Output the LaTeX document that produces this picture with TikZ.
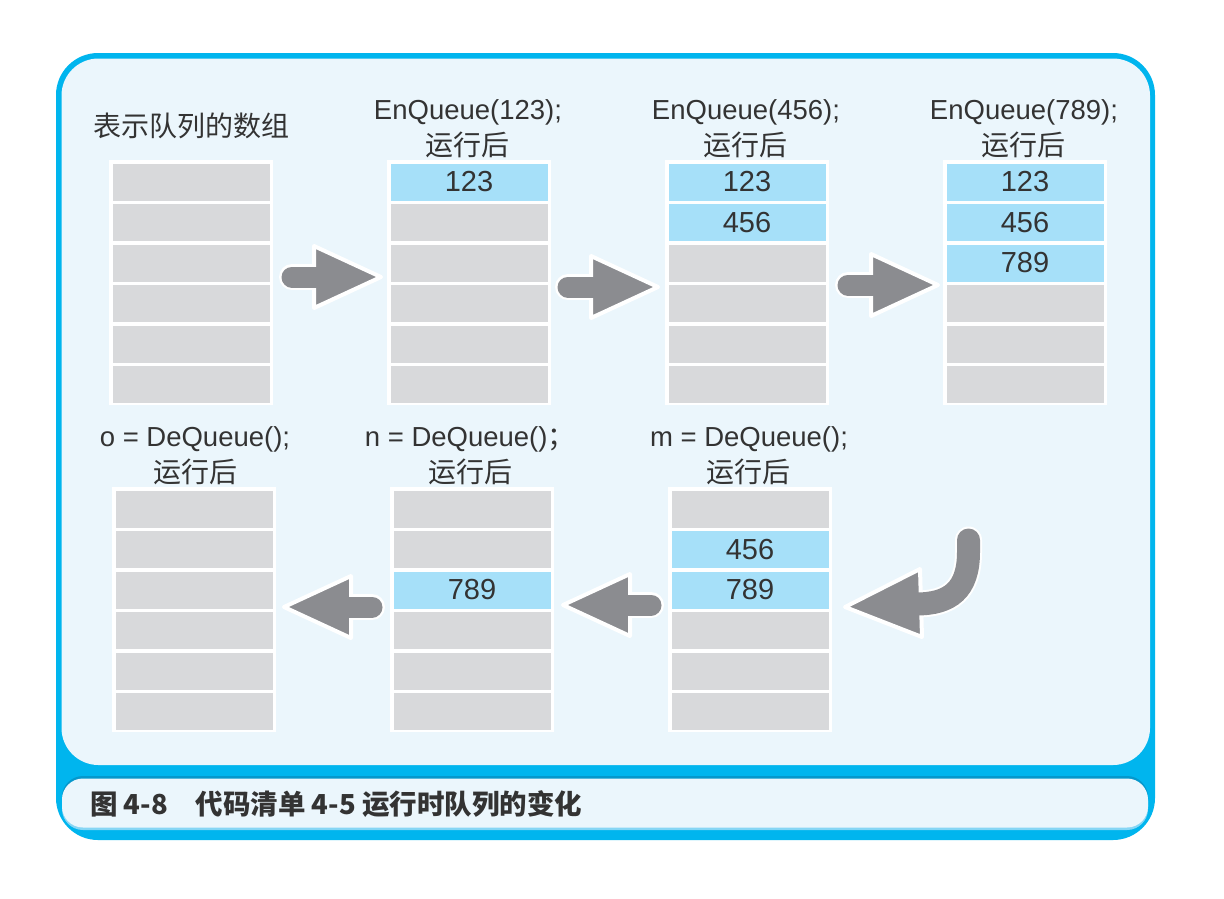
\documentclass[tikz,border=0pt]{standalone}
\usepackage{fontspec}
\setmainfont{Liberation Sans}
\newfontfamily\cjk{Noto Sans CJK SC}
\usetikzlibrary{calc}
\definecolor{frameblue}{HTML}{00B5EE}
\definecolor{panel}{HTML}{EBF6FC}
\definecolor{cellgray}{HTML}{D8D9DB}
\definecolor{cellblue}{HTML}{A6E0F9}
\definecolor{arrowgray}{HTML}{8B8C90}
\definecolor{txt}{HTML}{333333}
\definecolor{shadeblue}{HTML}{0598CC}
\definecolor{lightrim}{HTML}{86D6F5}
\tikzset{
  arraybg/.style={fill=white, draw=none, minimum width=164pt, minimum height=245pt, inner sep=0pt, outer sep=0pt},
  gcell/.style={fill=cellgray, minimum width=157pt, minimum height=37pt, inner sep=0pt, outer sep=0pt, text=txt, font=\fontsize{29}{31}\selectfont},
  bcell/.style={gcell, fill=cellblue},
  lab/.style={text=txt, inner sep=0pt, font=\fontsize{27.5}{30}\selectfont},
  cjklab/.style={text=txt, inner sep=0pt, font=\cjk\fontsize{28}{30}\selectfont},
  caption/.style={text=txt, inner sep=0pt, font=\cjk\bfseries\fontsize{27.5}{30}\selectfont},
  arrowhalo/.style={white, line width=26pt, line cap=round},
  arrowshaft/.style={arrowgray, line width=21pt, line cap=round},
  arrowhead/.style={fill=arrowgray, draw=white, line width=4pt, line join=round},
}
\newcommand{\queuearr}[4]{%
  \node[arraybg, anchor=north west] (#1) at (#2,#3) {};
  \foreach \s/\t [count=\i from 0] in {#4} {
    \node[\s, anchor=north west] (#1-\i) at (#2+3.5, #3+3.5+40.5*\i) {\t};
  }%
}
\newcommand{\blockarrow}[2]{%
  \coordinate (#1-b) at ($(#2)!67pt!(#1)$);
  \draw[arrowhalo] ($(#1)!10pt!(#2)$) -- ($(#2)!64pt!(#1)$);
  \filldraw[arrowhead] (#2) -- ($(#1-b)!31pt!90:(#2)$) -- ($(#1-b)!31pt!-90:(#2)$) -- cycle;
  \draw[arrowshaft] ($(#1)!10pt!(#2)$) -- ($(#2)!62pt!(#1)$);
}
\begin{document}
\begin{tikzpicture}[x=1pt, y=-1pt]
\useasboundingbox (0,0) rectangle (1224,898);
% frame
\fill[frameblue, rounded corners=42pt] (56,53) rectangle (1155,840);
\fill[panel, rounded corners=37pt] (61.5,58.5) rectangle (1150,765);
\fill[shadeblue, rounded corners=21pt] (62,776) rectangle (1148,826);
\fill[lightrim, rounded corners=21pt] (62,780) rectangle (1148,830);
\fill[panel, rounded corners=21pt] (62,778.5) rectangle (1148,827.5);
% arrays
\queuearr{qa}{109}{160}{gcell/{},gcell/{},gcell/{},gcell/{},gcell/{},gcell/{}}
\queuearr{qb}{387}{160}{bcell/123,gcell/{},gcell/{},gcell/{},gcell/{},gcell/{}}
\queuearr{qc}{665}{160}{bcell/123,bcell/456,gcell/{},gcell/{},gcell/{},gcell/{}}
\queuearr{qd}{943}{160}{bcell/123,bcell/456,bcell/789,gcell/{},gcell/{},gcell/{}}
\queuearr{qe}{668}{487}{gcell/{},bcell/456,bcell/789,gcell/{},gcell/{},gcell/{}}
\queuearr{qf}{390}{487}{gcell/{},gcell/{},bcell/789,gcell/{},gcell/{},gcell/{}}
\queuearr{qg}{112}{487}{gcell/{},gcell/{},gcell/{},gcell/{},gcell/{},gcell/{}}
% labels
\node[cjklab, anchor=west] (la) at (93,126) {表示队列的数组};
\node[lab, anchor=base] (lb1) at (468,119) {EnQueue(123);};
\node[cjklab] (lb2) at (467,145) {运行后};
\node[lab, anchor=base] (lc1) at (746,119) {EnQueue(456);};
\node[cjklab] (lc2) at (745,145) {运行后};
\node[lab, anchor=base] (ld1) at (1024,119) {EnQueue(789);};
\node[cjklab] (ld2) at (1023,145) {运行后};
\node[lab, anchor=base] (le1) at (749,446) {m = DeQueue();};
\node[cjklab] (le2) at (748,471.5) {运行后};
\node[lab, anchor=base] (lf1) at (470,446) {n = DeQueue(){\cjk ；}};
\node[cjklab] (lf2) at (470,471.5) {运行后};
\node[lab, anchor=base] (lg1) at (195,446) {o = DeQueue();};
\node[cjklab] (lg2) at (195,471.5) {运行后};
% arrows
\coordinate (ar1t) at (282,277); \coordinate (ar1h) at (381,277);
\coordinate (ar2t) at (558,287); \coordinate (ar2h) at (658,287);
\coordinate (ar3t) at (838,285); \coordinate (ar3h) at (938,285);
\coordinate (ar4t) at (661,605); \coordinate (ar4h) at (563,605);
\coordinate (ar5t) at (382,607); \coordinate (ar5h) at (284,607);
\blockarrow{ar1t}{ar1h}
\blockarrow{ar2t}{ar2h}
\blockarrow{ar3t}{ar3h}
\blockarrow{ar4t}{ar4h}
\blockarrow{ar5t}{ar5h}
% curved arrow
\coordinate (cvt) at (968.5,540);
\coordinate (cvh) at (845,607);
\draw[white, line width=27pt, line cap=round] (cvt) -- (968.5,552) .. controls (968.5,590) and (950,604) .. (916,604);
\filldraw[arrowhead] (cvh) -- (920,569) -- (922,637) -- cycle;
\draw[arrowgray, line width=23pt, line cap=round] (cvt) -- (968.5,552) .. controls (968.5,590) and (950,604) .. (916,604);
% caption
\node[caption, anchor=west] (cap) at (90,804) {图 4-8\hspace{1em}代码清单 4-5 运行时队列的变化};
\end{tikzpicture}
\end{document}
